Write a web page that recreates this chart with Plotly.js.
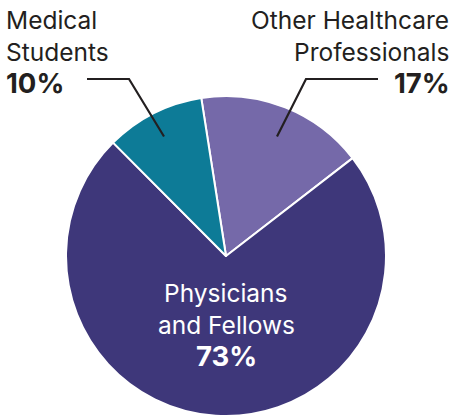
<!DOCTYPE html>
<html>
<head>
<meta charset="utf-8">
<script src="https://cdn.plot.ly/plotly-3.0.1.min.js"></script>
<style>
html,body{margin:0;padding:0;overflow:hidden;background:#fff;}
#chart{width:454px;height:417px;}
</style>
</head>
<body>
<div id="chart"></div>
<script>
// Data
const categories = ["Other Healthcare Professionals", "Physicians and Fellows", "Medical Students"];
const shares = [17, 73, 10];
const sliceColors = ["#7569a9", "#3e377a", "#0d7b97"];
const labelLines = {
  "Medical Students": ["Medical", "Students"],
  "Other Healthcare Professionals": ["Other Healthcare", "Professionals"],
  "Physicians and Fellows": ["Physicians", "and Fellows"]
};

const W = 454, H = 417;
const px = x => x / W;
const py = y => 1 - y / H;

const cx = 226, cy = 256, R = 160;

const trace = {
  type: "pie",
  labels: categories,
  values: shares,
  sort: false,
  direction: "clockwise",
  rotation: -8.9,
  marker: {colors: sliceColors, line: {color: "#ffffff", width: 2}},
  textinfo: "none",
  hoverinfo: "label+percent",
  domain: {x: [px(cx - R), px(cx + R)], y: [1 - (cy + R) / H, 1 - (cy - R) / H]},
  showlegend: false
};

const dark = "#231f20";
const regFont = (c) => ({family: "Inter, 'Noto Sans', sans-serif", size: 24.5, color: c, weight: 400});
const boldFont = (c) => ({family: "Inter, 'Noto Sans', sans-serif", size: 27.5, color: c, weight: 900});
const pct = i => shares[i] + "%";

function ann(text, x, y, xanchor, font) {
  return {text: text, x: px(x), y: py(y), xref: "paper", yref: "paper",
          xanchor: xanchor, yanchor: "middle", showarrow: false, font: font};
}

const iM = categories.indexOf("Medical Students");
const iO = categories.indexOf("Other Healthcare Professionals");
const iP = categories.indexOf("Physicians and Fellows");

const annotations = [
  ann(labelLines["Medical Students"][0], 4, 20, "left", regFont(dark)),
  ann(labelLines["Medical Students"][1], 4, 52, "left", regFont(dark)),
  ann("<b>" + pct(iM) + "</b>", 4, 83, "left", boldFont(dark)),
  ann(labelLines["Other Healthcare Professionals"][0], 451, 20, "right", regFont(dark)),
  ann(labelLines["Other Healthcare Professionals"][1], 451, 52, "right", regFont(dark)),
  ann("<b>" + pct(iO) + "</b>", 452, 83, "right", boldFont(dark)),
  ann(labelLines["Physicians and Fellows"][0], 226, 293, "center", regFont("#ffffff")),
  ann(labelLines["Physicians and Fellows"][1], 226, 325, "center", regFont("#ffffff")),
  ann("<b>" + pct(iP) + "</b>", 226, 356, "center", boldFont("#ffffff"))
];

function path(pts) {
  return pts.map((p, k) => (k ? "L" : "M") + px(p[0]).toFixed(5) + "," + py(p[1]).toFixed(5)).join(" ");
}

const shapes = [
  {type: "path", xref: "paper", yref: "paper", path: path([[87, 79], [129, 79], [164, 136.5]]),
   line: {color: dark, width: 2.2}},
  {type: "path", xref: "paper", yref: "paper", path: path([[378, 79], [306, 79], [277, 136.5]]),
   line: {color: dark, width: 2.2}}
];

const layout = {
  width: W, height: H,
  margin: {l: 0, r: 0, t: 0, b: 0},
  paper_bgcolor: "#ffffff",
  plot_bgcolor: "#ffffff",
  annotations: annotations,
  shapes: shapes,
  showlegend: false
};

Plotly.newPlot("chart", [trace], layout, {displayModeBar: false, staticPlot: true});
</script>
</body>
</html>
